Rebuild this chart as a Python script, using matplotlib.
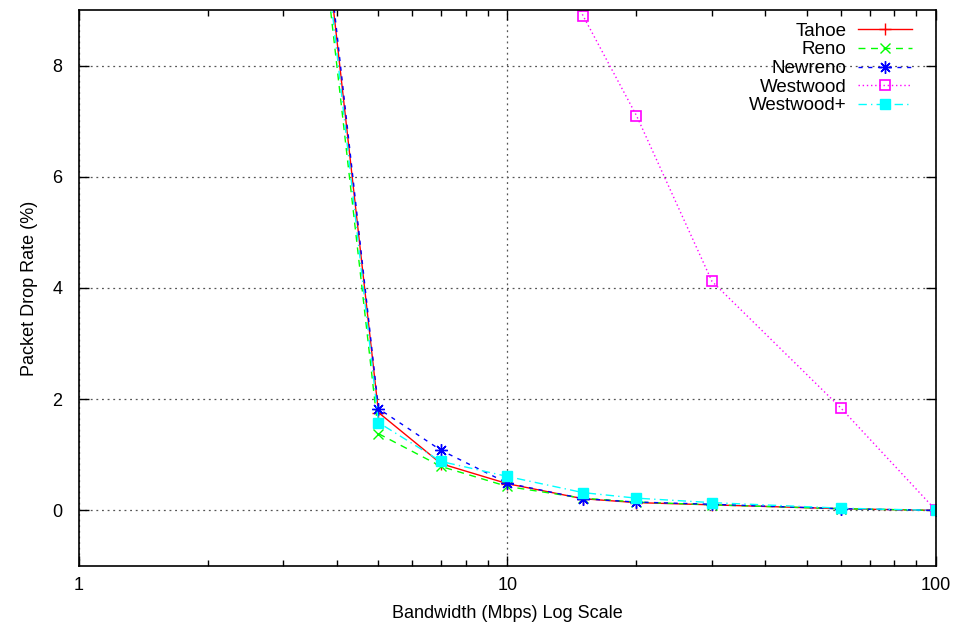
import matplotlib.pyplot as plt
import numpy as np

plt.rcParams['font.family'] = ['Liberation Sans', 'DejaVu Sans']

# bandwidth (Mbps)
bw = [1, 5, 7, 10, 15, 20, 30, 60, 100]
# packet drop rate (%) per variant
tahoe = [50.0, 1.76, 0.84, 0.48, 0.21, 0.14, 0.10, 0.03, 0.0]
reno = [49.0, 1.38, 0.79, 0.43, 0.22, 0.15, 0.10, 0.03, 0.0]
newreno = [50.5, 1.83, 1.08, 0.49, 0.21, 0.15, 0.11, 0.03, 0.0]
westwood = [60.0, 25.0, 18.0, 12.0, 8.9, 7.1, 4.12, 1.84, 0.0]
westwood_plus = [49.5, 1.58, 0.88, 0.61, 0.32, 0.22, 0.14, 0.04, 0.0]

fig = plt.figure(figsize=(9.56, 6.25), dpi=100)
ax = fig.add_axes([0.0826, 0.0944, 0.8965, 0.8896])

ax.plot(bw, tahoe, color='#ff0000', lw=1, ls='-', marker='+', ms=9, mew=1, label='Tahoe')
ax.plot(bw, reno, color='#00ff00', lw=1, ls=(0, (5, 4)), marker='x', ms=7, mew=1, label='Reno')
ax.plot(bw, newreno, color='#0000ff', lw=1, ls=(0, (3, 4)), marker=(8, 2, 0), ms=9, mew=1, label='Newreno')
ax.plot(bw, westwood, color='#ff00ff', lw=1, ls=(0, (1, 2)), marker='s', ms=7, mew=1.2,
        mfc='none', label='Westwood')
ax.plot(bw, westwood_plus, color='#00ffff', lw=1, ls=(0, (6, 3, 1, 3)), marker='s', ms=7,
        mew=1, label='Westwood+')

ax.set_xscale('log')
ax.set_xlim(1, 100)
ax.set_ylim(-1, 9)
ax.set_yticks([0, 2, 4, 6, 8])
ax.set_xticks([1, 10, 100])
ax.set_xticklabels(['1', '10', '100'])
ax.tick_params(which='both', direction='in', top=True, right=True, labelsize=13, pad=8)
ax.tick_params(axis='y', pad=12)
ax.tick_params(which='major', length=7, width=1)
ax.tick_params(which='minor', length=4, width=1)
ax.tick_params(axis='y', which='minor', left=False, right=False)
ax.grid(True, which='major', color='#555555', ls=(0, (1.5, 3)), lw=0.9)
for s in ax.spines.values():
    s.set_linewidth(1.2)

ax.set_xlabel('Bandwidth (Mbps) Log Scale', fontsize=13, labelpad=8)
ax.set_ylabel('Packet Drop Rate (%)', fontsize=13, labelpad=10)

leg = ax.legend(loc='upper right', frameon=False, markerfirst=False, fontsize=13.5,
                handlelength=2.9, labelspacing=0.08, handletextpad=0.6,
                borderaxespad=0.6, bbox_to_anchor=(1 - 5 / 857, 1 + 6 / 556))

plt.savefig('out.png', dpi=100)
